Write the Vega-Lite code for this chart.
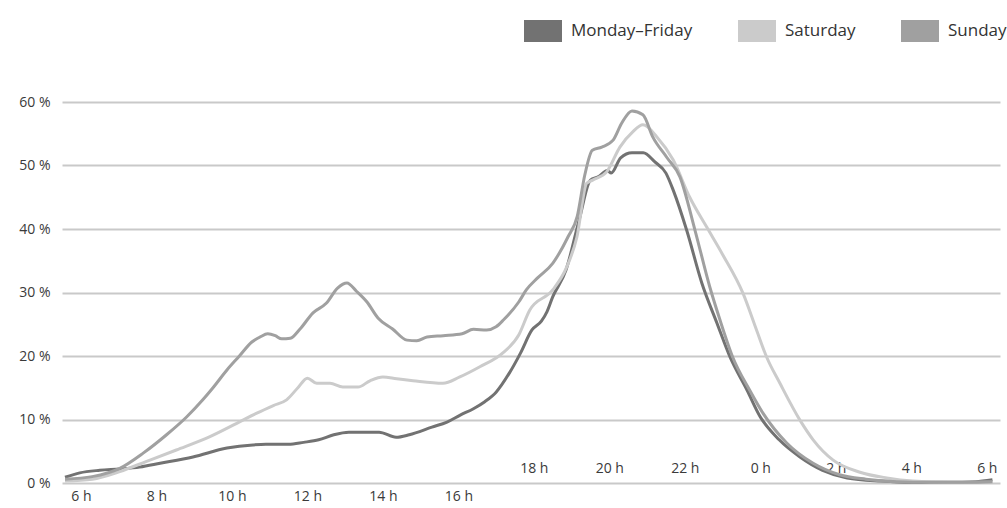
{
  "$schema": "https://vega.github.io/schema/vega-lite/v6.json",
  "width": 938,
  "height": 381,
  "autosize": {"type": "none"},
  "padding": {"left": 62, "top": 102, "right": 7, "bottom": 25},
  "background": "white",
  "config": {
    "view": {"stroke": null},
    "font": "Open Sans",
    "axis": {"labelColor": "#3a3a3a", "labelFont": "Open Sans", "labelFontSize": 14, "domain": false, "ticks": false, "grid": false}
  },
  "data": {
    "values": [
      {"day": "Monday–Friday", "hour": 5.58, "pct": 0.9},
      {"day": "Monday–Friday", "hour": 5.97, "pct": 1.6},
      {"day": "Monday–Friday", "hour": 6.5, "pct": 2.0},
      {"day": "Monday–Friday", "hour": 7.03, "pct": 2.2},
      {"day": "Monday–Friday", "hour": 7.56, "pct": 2.5},
      {"day": "Monday–Friday", "hour": 8.1, "pct": 3.1},
      {"day": "Monday–Friday", "hour": 8.97, "pct": 4.1},
      {"day": "Monday–Friday", "hour": 9.87, "pct": 5.5},
      {"day": "Monday–Friday", "hour": 10.56, "pct": 6.0},
      {"day": "Monday–Friday", "hour": 10.9, "pct": 6.1},
      {"day": "Monday–Friday", "hour": 11.5, "pct": 6.1},
      {"day": "Monday–Friday", "hour": 11.9, "pct": 6.4},
      {"day": "Monday–Friday", "hour": 12.3, "pct": 6.8},
      {"day": "Monday–Friday", "hour": 12.7, "pct": 7.6},
      {"day": "Monday–Friday", "hour": 13.1, "pct": 8.0},
      {"day": "Monday–Friday", "hour": 13.5, "pct": 8.0},
      {"day": "Monday–Friday", "hour": 13.9, "pct": 8.0},
      {"day": "Monday–Friday", "hour": 14.35, "pct": 7.2},
      {"day": "Monday–Friday", "hour": 14.7, "pct": 7.6},
      {"day": "Monday–Friday", "hour": 15.3, "pct": 8.8},
      {"day": "Monday–Friday", "hour": 15.7, "pct": 9.6},
      {"day": "Monday–Friday", "hour": 16.05, "pct": 10.7},
      {"day": "Monday–Friday", "hour": 16.4, "pct": 11.7},
      {"day": "Monday–Friday", "hour": 16.7, "pct": 12.8},
      {"day": "Monday–Friday", "hour": 17.0, "pct": 14.3},
      {"day": "Monday–Friday", "hour": 17.35, "pct": 17.3},
      {"day": "Monday–Friday", "hour": 17.65, "pct": 20.5},
      {"day": "Monday–Friday", "hour": 17.95, "pct": 24.1},
      {"day": "Monday–Friday", "hour": 18.2, "pct": 25.5},
      {"day": "Monday–Friday", "hour": 18.35, "pct": 27.0},
      {"day": "Monday–Friday", "hour": 18.5, "pct": 29.3},
      {"day": "Monday–Friday", "hour": 18.85, "pct": 33.5},
      {"day": "Monday–Friday", "hour": 19.2, "pct": 41.4},
      {"day": "Monday–Friday", "hour": 19.5, "pct": 47.7},
      {"day": "Monday–Friday", "hour": 19.7, "pct": 48.2},
      {"day": "Monday–Friday", "hour": 19.95, "pct": 49.2},
      {"day": "Monday–Friday", "hour": 20.05, "pct": 48.8},
      {"day": "Monday–Friday", "hour": 20.3, "pct": 51.2},
      {"day": "Monday–Friday", "hour": 20.6, "pct": 52.0},
      {"day": "Monday–Friday", "hour": 20.9, "pct": 52.0},
      {"day": "Monday–Friday", "hour": 21.2, "pct": 50.6},
      {"day": "Monday–Friday", "hour": 21.5, "pct": 48.8},
      {"day": "Monday–Friday", "hour": 21.7, "pct": 46.0},
      {"day": "Monday–Friday", "hour": 22.05, "pct": 39.8},
      {"day": "Monday–Friday", "hour": 22.45, "pct": 31.5},
      {"day": "Monday–Friday", "hour": 22.85, "pct": 25.2},
      {"day": "Monday–Friday", "hour": 23.2, "pct": 19.8},
      {"day": "Monday–Friday", "hour": 23.65, "pct": 14.6},
      {"day": "Monday–Friday", "hour": 24.0, "pct": 10.4},
      {"day": "Monday–Friday", "hour": 24.5, "pct": 6.8},
      {"day": "Monday–Friday", "hour": 25.05, "pct": 4.1},
      {"day": "Monday–Friday", "hour": 25.65, "pct": 2.0},
      {"day": "Monday–Friday", "hour": 26.3, "pct": 0.8},
      {"day": "Monday–Friday", "hour": 27.2, "pct": 0.3},
      {"day": "Monday–Friday", "hour": 28.0, "pct": 0.1},
      {"day": "Monday–Friday", "hour": 29.0, "pct": 0.1},
      {"day": "Monday–Friday", "hour": 29.7, "pct": 0.2},
      {"day": "Monday–Friday", "hour": 30.15, "pct": 0.5},

      {"day": "Saturday", "hour": 5.58, "pct": 0.3},
      {"day": "Saturday", "hour": 6.3, "pct": 0.6},
      {"day": "Saturday", "hour": 7.03, "pct": 1.8},
      {"day": "Saturday", "hour": 7.74, "pct": 3.4},
      {"day": "Saturday", "hour": 8.53, "pct": 5.2},
      {"day": "Saturday", "hour": 9.42, "pct": 7.3},
      {"day": "Saturday", "hour": 10.13, "pct": 9.4},
      {"day": "Saturday", "hour": 10.66, "pct": 11.0},
      {"day": "Saturday", "hour": 11.1, "pct": 12.2},
      {"day": "Saturday", "hour": 11.45, "pct": 13.1},
      {"day": "Saturday", "hour": 11.75, "pct": 15.0},
      {"day": "Saturday", "hour": 12.0, "pct": 16.5},
      {"day": "Saturday", "hour": 12.25, "pct": 15.7},
      {"day": "Saturday", "hour": 12.6, "pct": 15.7},
      {"day": "Saturday", "hour": 12.94, "pct": 15.1},
      {"day": "Saturday", "hour": 13.34, "pct": 15.1},
      {"day": "Saturday", "hour": 13.66, "pct": 16.1},
      {"day": "Saturday", "hour": 14.0, "pct": 16.7},
      {"day": "Saturday", "hour": 14.37, "pct": 16.4},
      {"day": "Saturday", "hour": 14.8, "pct": 16.1},
      {"day": "Saturday", "hour": 15.59, "pct": 15.7},
      {"day": "Saturday", "hour": 16.04, "pct": 16.7},
      {"day": "Saturday", "hour": 16.57, "pct": 18.3},
      {"day": "Saturday", "hour": 17.18, "pct": 20.5},
      {"day": "Saturday", "hour": 17.6, "pct": 23.3},
      {"day": "Saturday", "hour": 17.89, "pct": 27.2},
      {"day": "Saturday", "hour": 18.5, "pct": 30.4},
      {"day": "Saturday", "hour": 18.87, "pct": 34.0},
      {"day": "Saturday", "hour": 19.14, "pct": 38.7},
      {"day": "Saturday", "hour": 19.4, "pct": 47.2},
      {"day": "Saturday", "hour": 19.56, "pct": 47.7},
      {"day": "Saturday", "hour": 19.93, "pct": 49.0},
      {"day": "Saturday", "hour": 20.28, "pct": 52.9},
      {"day": "Saturday", "hour": 20.62, "pct": 55.3},
      {"day": "Saturday", "hour": 20.89, "pct": 56.4},
      {"day": "Saturday", "hour": 21.26, "pct": 54.5},
      {"day": "Saturday", "hour": 21.69, "pct": 50.9},
      {"day": "Saturday", "hour": 22.13, "pct": 45.0},
      {"day": "Saturday", "hour": 22.58, "pct": 40.3},
      {"day": "Saturday", "hour": 23.0, "pct": 36.0},
      {"day": "Saturday", "hour": 23.54, "pct": 29.9},
      {"day": "Saturday", "hour": 23.9, "pct": 24.1},
      {"day": "Saturday", "hour": 24.17, "pct": 19.8},
      {"day": "Saturday", "hour": 24.52, "pct": 15.7},
      {"day": "Saturday", "hour": 25.05, "pct": 9.9},
      {"day": "Saturday", "hour": 25.4, "pct": 6.8},
      {"day": "Saturday", "hour": 25.93, "pct": 3.6},
      {"day": "Saturday", "hour": 26.64, "pct": 1.7},
      {"day": "Saturday", "hour": 27.35, "pct": 0.8},
      {"day": "Saturday", "hour": 28.04, "pct": 0.3},
      {"day": "Saturday", "hour": 29.0, "pct": 0.1},
      {"day": "Saturday", "hour": 30.15, "pct": 0.1},

      {"day": "Sunday", "hour": 5.58, "pct": 0.6},
      {"day": "Sunday", "hour": 6.3, "pct": 1.0},
      {"day": "Sunday", "hour": 7.03, "pct": 2.3},
      {"day": "Sunday", "hour": 7.65, "pct": 4.7},
      {"day": "Sunday", "hour": 8.27, "pct": 7.6},
      {"day": "Sunday", "hour": 8.8, "pct": 10.4},
      {"day": "Sunday", "hour": 9.23, "pct": 13.1},
      {"day": "Sunday", "hour": 9.5, "pct": 15.0},
      {"day": "Sunday", "hour": 9.87, "pct": 17.8},
      {"day": "Sunday", "hour": 10.2, "pct": 20.0},
      {"day": "Sunday", "hour": 10.53, "pct": 22.2},
      {"day": "Sunday", "hour": 10.75, "pct": 23.0},
      {"day": "Sunday", "hour": 10.95, "pct": 23.5},
      {"day": "Sunday", "hour": 11.15, "pct": 23.2},
      {"day": "Sunday", "hour": 11.32, "pct": 22.7},
      {"day": "Sunday", "hour": 11.55, "pct": 22.8},
      {"day": "Sunday", "hour": 11.8, "pct": 24.2},
      {"day": "Sunday", "hour": 12.15, "pct": 26.8},
      {"day": "Sunday", "hour": 12.5, "pct": 28.3},
      {"day": "Sunday", "hour": 12.8, "pct": 30.7},
      {"day": "Sunday", "hour": 13.05, "pct": 31.5},
      {"day": "Sunday", "hour": 13.3, "pct": 30.2},
      {"day": "Sunday", "hour": 13.58, "pct": 28.5},
      {"day": "Sunday", "hour": 13.87, "pct": 26.0},
      {"day": "Sunday", "hour": 14.25, "pct": 24.3},
      {"day": "Sunday", "hour": 14.64, "pct": 22.5},
      {"day": "Sunday", "hour": 14.9, "pct": 22.4},
      {"day": "Sunday", "hour": 15.17, "pct": 23.0},
      {"day": "Sunday", "hour": 15.6, "pct": 23.2},
      {"day": "Sunday", "hour": 16.1, "pct": 23.5},
      {"day": "Sunday", "hour": 16.4, "pct": 24.2},
      {"day": "Sunday", "hour": 16.75, "pct": 24.1},
      {"day": "Sunday", "hour": 17.0, "pct": 24.6},
      {"day": "Sunday", "hour": 17.2, "pct": 25.7},
      {"day": "Sunday", "hour": 17.6, "pct": 28.5},
      {"day": "Sunday", "hour": 17.8, "pct": 30.4},
      {"day": "Sunday", "hour": 18.1, "pct": 32.3},
      {"day": "Sunday", "hour": 18.5, "pct": 34.6},
      {"day": "Sunday", "hour": 18.9, "pct": 38.7},
      {"day": "Sunday", "hour": 19.15, "pct": 42.0},
      {"day": "Sunday", "hour": 19.35, "pct": 48.5},
      {"day": "Sunday", "hour": 19.55, "pct": 52.4},
      {"day": "Sunday", "hour": 19.8, "pct": 52.9},
      {"day": "Sunday", "hour": 20.1, "pct": 54.0},
      {"day": "Sunday", "hour": 20.33, "pct": 56.7},
      {"day": "Sunday", "hour": 20.6, "pct": 58.6},
      {"day": "Sunday", "hour": 20.89, "pct": 58.0},
      {"day": "Sunday", "hour": 21.15, "pct": 54.5},
      {"day": "Sunday", "hour": 21.52, "pct": 51.3},
      {"day": "Sunday", "hour": 21.87, "pct": 48.2},
      {"day": "Sunday", "hour": 22.27, "pct": 39.8},
      {"day": "Sunday", "hour": 22.66, "pct": 30.9},
      {"day": "Sunday", "hour": 22.93, "pct": 25.7},
      {"day": "Sunday", "hour": 23.27, "pct": 19.8},
      {"day": "Sunday", "hour": 23.72, "pct": 14.6},
      {"day": "Sunday", "hour": 24.07, "pct": 11.0},
      {"day": "Sunday", "hour": 24.7, "pct": 6.3},
      {"day": "Sunday", "hour": 25.4, "pct": 3.1},
      {"day": "Sunday", "hour": 26.1, "pct": 1.3},
      {"day": "Sunday", "hour": 26.8, "pct": 0.6},
      {"day": "Sunday", "hour": 27.6, "pct": 0.2},
      {"day": "Sunday", "hour": 28.5, "pct": 0.1},
      {"day": "Sunday", "hour": 29.5, "pct": 0.1},
      {"day": "Sunday", "hour": 30.15, "pct": 0.2}
    ]
  },
  "mark": {"type": "line", "strokeWidth": 3, "interpolate": "monotone", "clip": false},
  "encoding": {
    "x": {
      "field": "hour",
      "type": "quantitative",
      "scale": {"domain": [5.5, 30.35], "nice": false, "zero": false},
      "axis": {
        "title": null,
        "values": [6, 8, 10, 12, 14, 16, 18, 20, 22, 24, 26, 28, 30],
        "labelExpr": "(datum.value % 24) + ' h'",
        "labelPadding": {"condition": {"test": "datum.value >= 18", "value": -22}, "value": 6},
        "labelFlush": false,
        "labelOverlap": false
      }
    },
    "y": {
      "field": "pct",
      "type": "quantitative",
      "scale": {"domain": [0, 60], "nice": false},
      "axis": {
        "title": null,
        "values": [0, 10, 20, 30, 40, 50, 60],
        "labelExpr": "datum.value + ' %'",
        "labelPadding": 12,
        "grid": true,
        "gridColor": "#c9c9c9",
        "gridWidth": 2
      }
    },
    "color": {
      "field": "day",
      "type": "nominal",
      "scale": {"domain": ["Monday–Friday", "Saturday", "Sunday"], "range": ["#727272", "#cbcbcb", "#a0a0a0"]},
      "legend": {
        "title": null,
        "orient": "none",
        "direction": "horizontal",
        "legendX": 451,
        "legendY": -101,
        "padding": 0,
        "symbolType": "M-1,0L1,0",
        "symbolSize": 1444,
        "symbolStrokeWidth": 22,
        "symbolOpacity": 1,
        "labelFont": "Open Sans",
        "labelFontSize": 17,
        "labelColor": "#333333",
        "labelOffset": -2,
        "columnPadding": 1,
        "labelLimit": 300
      }
    }
  }
}
